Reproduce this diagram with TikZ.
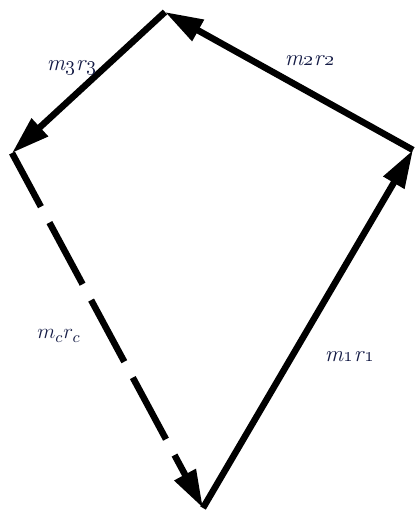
\documentclass[tikz,border=0pt]{standalone}
\usetikzlibrary{arrows.meta}
\definecolor{vecink}{HTML}{000000}
\definecolor{lbltext}{HTML}{141B45}
\tikzset{
  vec/.style={-{Triangle[length=0.76cm,width=0.46cm]}, draw=vecink, line width=0.13cm},
  dvec/.style={vec, dash pattern=on 1.40cm off 0.36cm, dash phase=0.18cm},
  lbl/.style={font=\fontsize{13}{15}\selectfont, text=lbltext, inner sep=0pt},
}
\newcommand{\mr}[1]{\textit{m}\oldstylenums{#1}\textit{r}\oldstylenums{#1}}
\begin{document}
\begin{tikzpicture}[x=1cm,y=1cm]
  \useasboundingbox (0,0) rectangle (8.300,-10.240);
  \coordinate (top) at (3.300,-0.240);
  \coordinate (rgt) at (8.260,-3.000);
  \coordinate (lft) at (0.240,-3.060);
  \coordinate (bot) at (4.060,-10.160);
  % vector polygon
  \draw[vec] (bot) -- (rgt);
  \draw[vec] (rgt) -- (top);
  \draw[vec] (top) -- (lft);
  \draw[dvec] (lft) -- (bot);
  % labels
  \node[lbl] (m1) at (7.000,-7.140) {\mr{1}};
  \node[lbl] (m2) at (6.200,-1.220) {\mr{2}};
  \node[lbl] (m3) at (1.440,-1.360) {\mr{3}};
  \node[lbl] (mc) at (1.180,-6.720) {$m_c r_c$};
\end{tikzpicture}
\end{document}
